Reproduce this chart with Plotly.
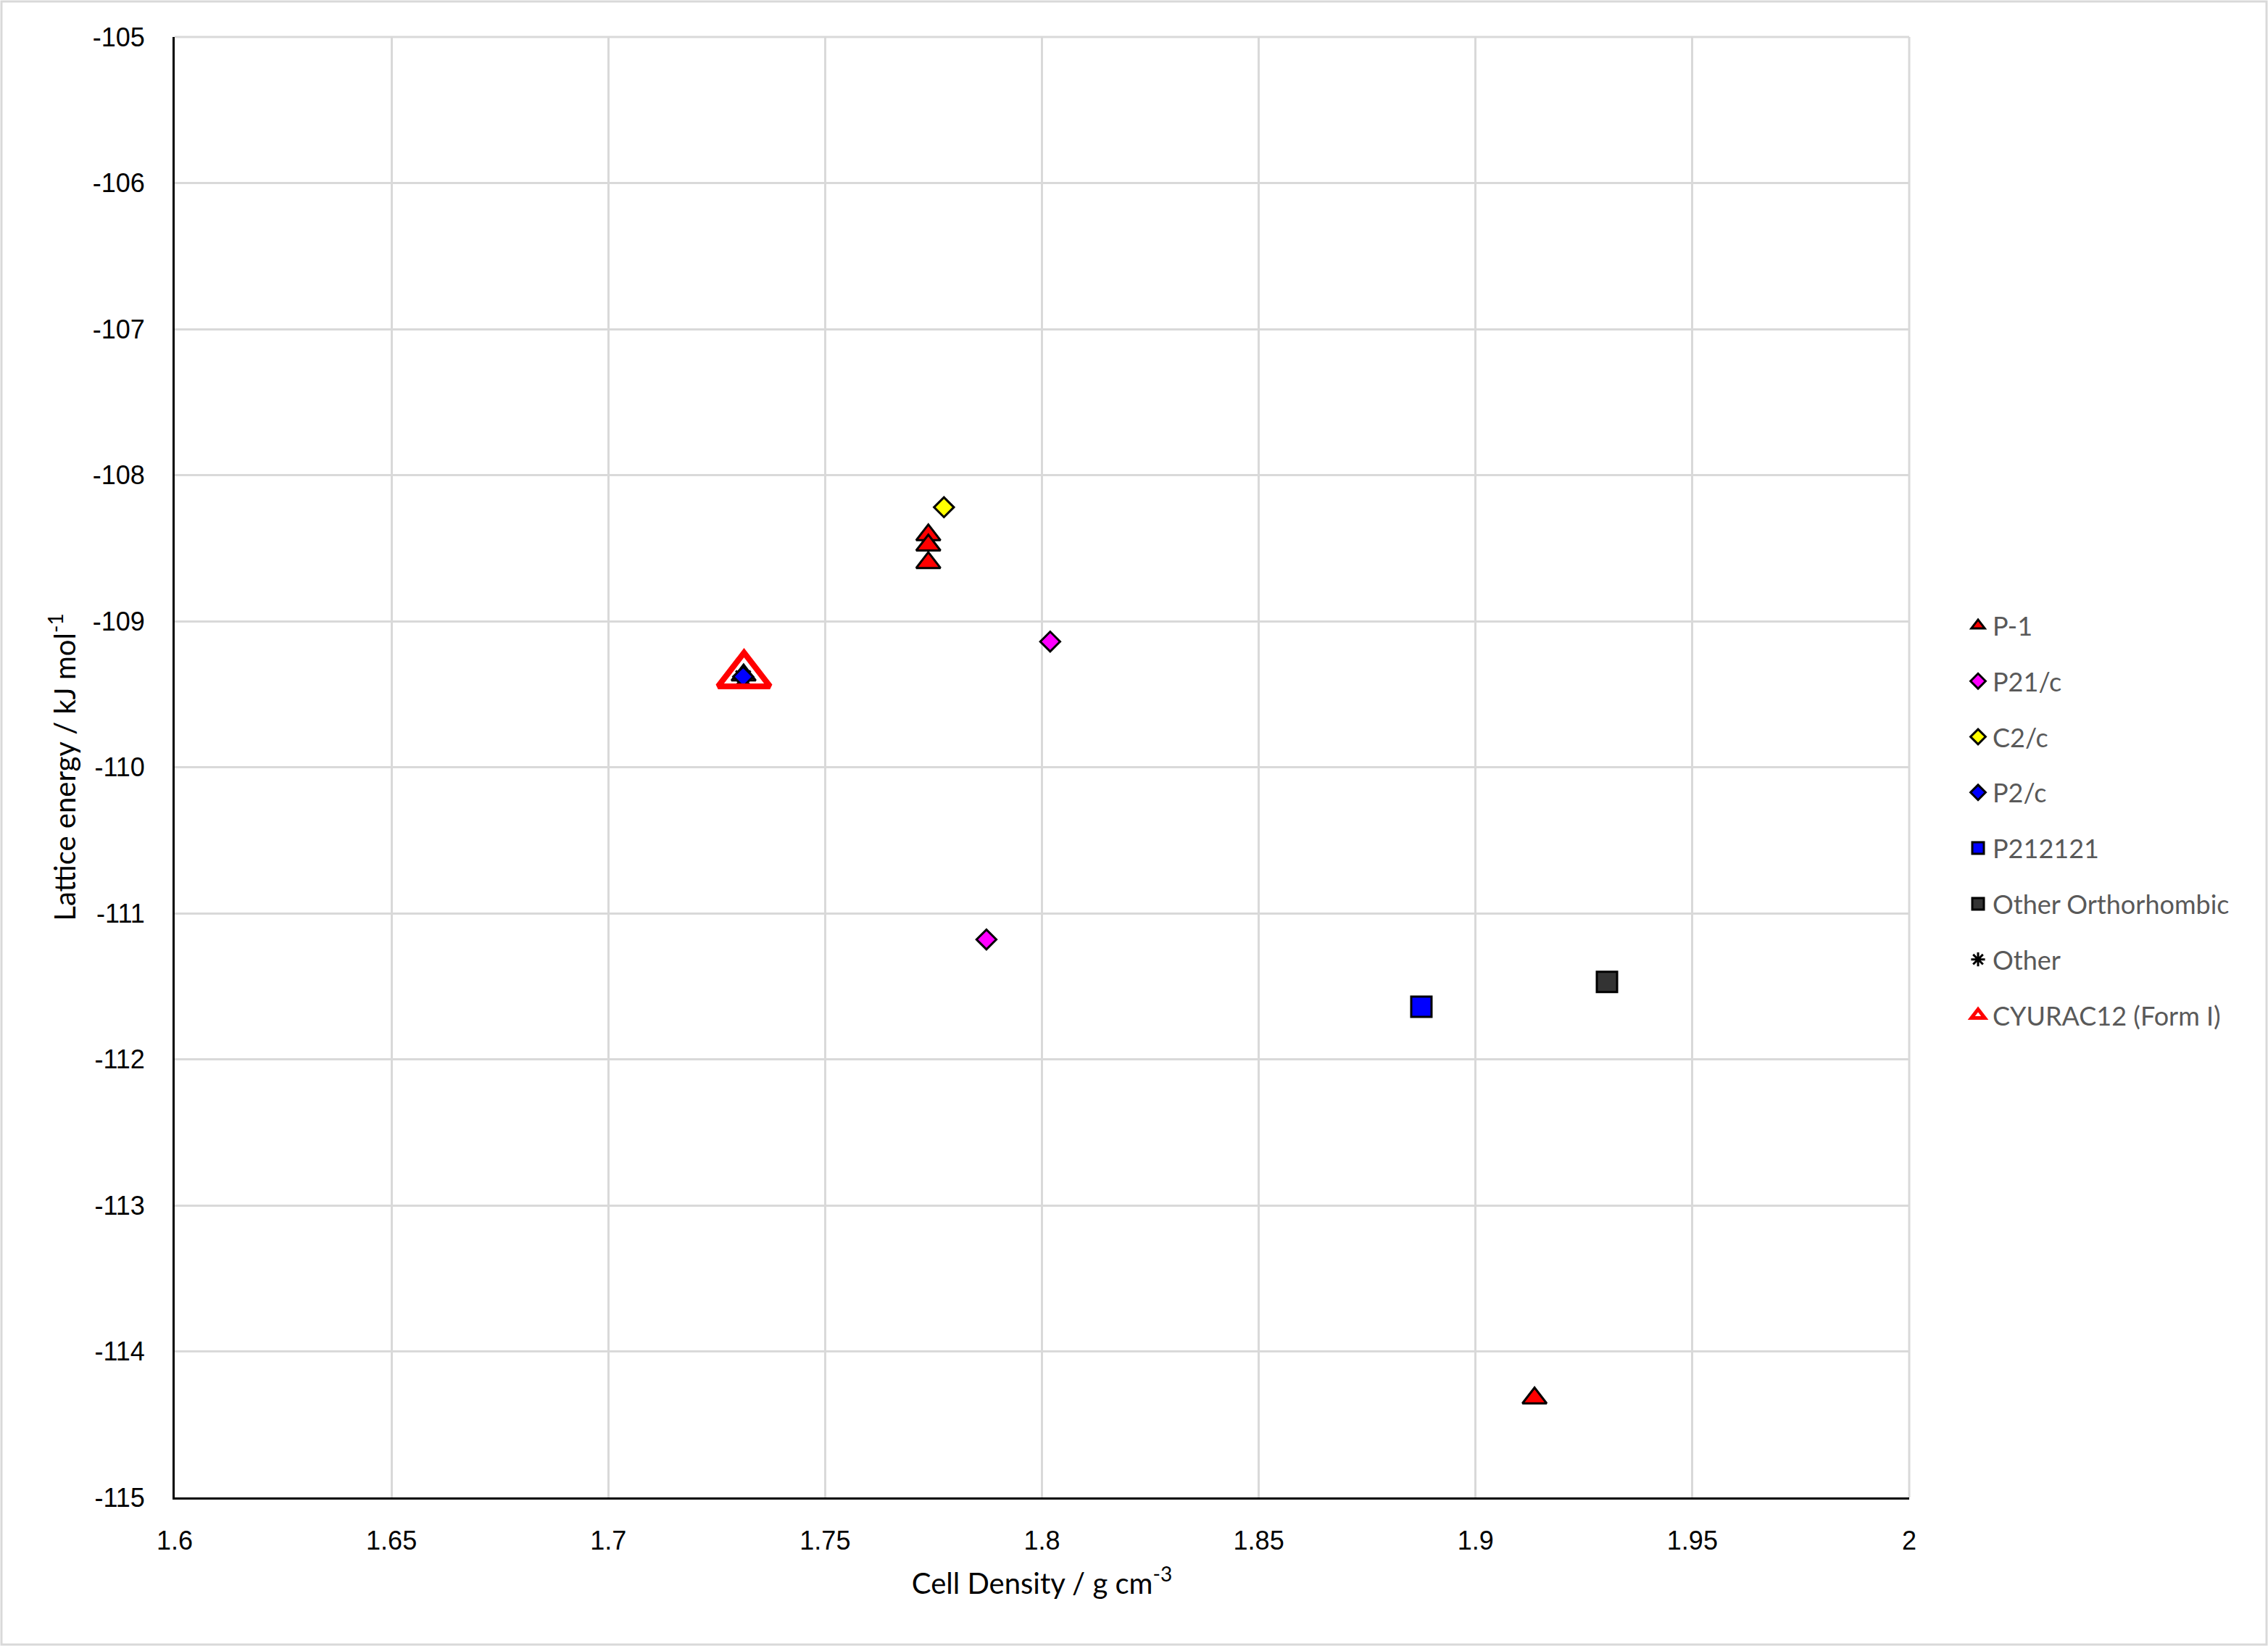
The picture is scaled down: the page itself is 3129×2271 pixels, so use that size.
import plotly.graph_objects as go

# ---- data ----
p1_x = [1.7738, 1.7738, 1.7738, 1.7312, 1.9136]
p1_y = [-108.41, -108.48, -108.60, -109.37, -114.32]
p21c_x = [1.8019, 1.7872]
p21c_y = [-109.14, -111.18]
c2c_x = [1.7774]
c2c_y = [-108.22]
p2c_x = [1.7311]
p2c_y = [-109.38]
p212121_x = [1.8875]
p212121_y = [-111.64]
orth_x = [1.9303]
orth_y = [-111.47]
other_x = [1.7311]
other_y = [-109.39]
form1_x = [1.7313]
form1_y = [-109.37]

x_ticks = [1.6, 1.65, 1.7, 1.75, 1.8, 1.85, 1.9, 1.95, 2.0]
x_ticktext = ["1.6", "1.65", "1.7", "1.75", "1.8", "1.85", "1.9", "1.95", "2"]
y_ticks = [-115, -114, -113, -112, -111, -110, -109, -108, -107, -106, -105]
y_ticktext = ["-115", "-114", "-113", "-112", "-111", "-110", "-109", "-108", "-107", "-106", "-105"]

W, H = 3129, 2271
L, R, T, B = 241, 3129 - 2634, 51, 2271 - 2066

fig = go.Figure()

def add(name, x, y, symbol, fill, size, lw=3, lc="black"):
    fig.add_trace(go.Scatter(
        x=x, y=y, mode="markers", name=name, legendgroup=name,
        marker=dict(symbol=symbol, color=fill, size=size,
                    line=dict(color=lc, width=lw)),
        cliponaxis=False,
    ))

add("P-1", p1_x, p1_y, "triangle-up", "#FF0000", 29)
add("P21/c", p21c_x, p21c_y, "diamond", "#FF00FF", 21)
add("C2/c", c2c_x, c2c_y, "diamond", "#FFFF00", 21)
add("Other", other_x, other_y, "asterisk-open", "black", 24, lw=3)
add("P2/c", p2c_x, p2c_y, "diamond", "#0000FF", 21)
add("P212121", p212121_x, p212121_y, "square", "#0000FF", 28)
add("Other Orthorhombic", orth_x, orth_y, "square", "#333333", 28)
add("CYURAC12 (Form I)", form1_x, form1_y, "triangle-up-open", "#FF0000", 62, lw=8, lc="#FF0000")

# legend order as in reference
order = ["P-1", "P21/c", "C2/c", "P2/c", "P212121", "Other Orthorhombic", "Other", "CYURAC12 (Form I)"]
for tr in fig.data:
    tr.legendrank = order.index(tr.name) + 1

pw = 2634 - 241
ph = 2066 - 51

fig.update_layout(
    width=W, height=H,
    margin=dict(l=L, r=R, t=T, b=B),
    paper_bgcolor="white", plot_bgcolor="white",
    showlegend=True,
    legend=dict(
        x=(2709 - L) / pw, xanchor="left",
        y=(2066 - 833) / ph, yanchor="top",
        font=dict(family="Lato, Noto Sans, sans-serif", size=36, color="#595959"),
        tracegroupgap=27,
        itemsizing="trace",
        bgcolor="rgba(0,0,0,0)",
    ),
    xaxis=dict(
        range=[1.6, 2.0], tickvals=x_ticks, ticktext=x_ticktext,
        showgrid=True, gridcolor="#D9D9D9", gridwidth=3,
        showline=True, linecolor="black", linewidth=3,
        zeroline=False, ticks="",
        tickfont=dict(family="Liberation Sans, Arial, sans-serif", size=36, color="black"),
        ticklabelstandoff=26,
        title=dict(text="Cell Density / g cm<sup>-3</sup>",
                   font=dict(family="Lato, Noto Sans, sans-serif", size=40, color="black"),
                   standoff=26),
    ),
    yaxis=dict(
        range=[-115, -105], tickvals=y_ticks, ticktext=y_ticktext,
        showgrid=True, gridcolor="#D9D9D9", gridwidth=3,
        showline=True, linecolor="black", linewidth=3,
        zeroline=False, ticks="",
        tickfont=dict(family="Liberation Sans, Arial, sans-serif", size=36, color="black"),
        ticklabelstandoff=31,
        title=dict(text="Lattice energy / kJ mol<sup>-1</sup>",
                   font=dict(family="Lato, Noto Sans, sans-serif", size=40, color="black"),
                   standoff=11),
    ),
    shapes=[
        dict(type="line", xref="paper", yref="paper", x0=1, x1=1, y0=0, y1=1,
             line=dict(color="#D9D9D9", width=3), layer="below"),
        dict(type="line", xref="paper", yref="paper", x0=0, x1=1, y0=1, y1=1,
             line=dict(color="#D9D9D9", width=3), layer="below"),
        dict(type="rect", xref="paper", yref="paper",
             x0=(2 - L) / pw, x1=(W - 2 - L) / pw,
             y0=-(B - 2) / ph, y1=1 + (T - 2) / ph,
             line=dict(color="#D9D9D9", width=3), layer="below"),
    ],
)

fig.write_html("out.html")
